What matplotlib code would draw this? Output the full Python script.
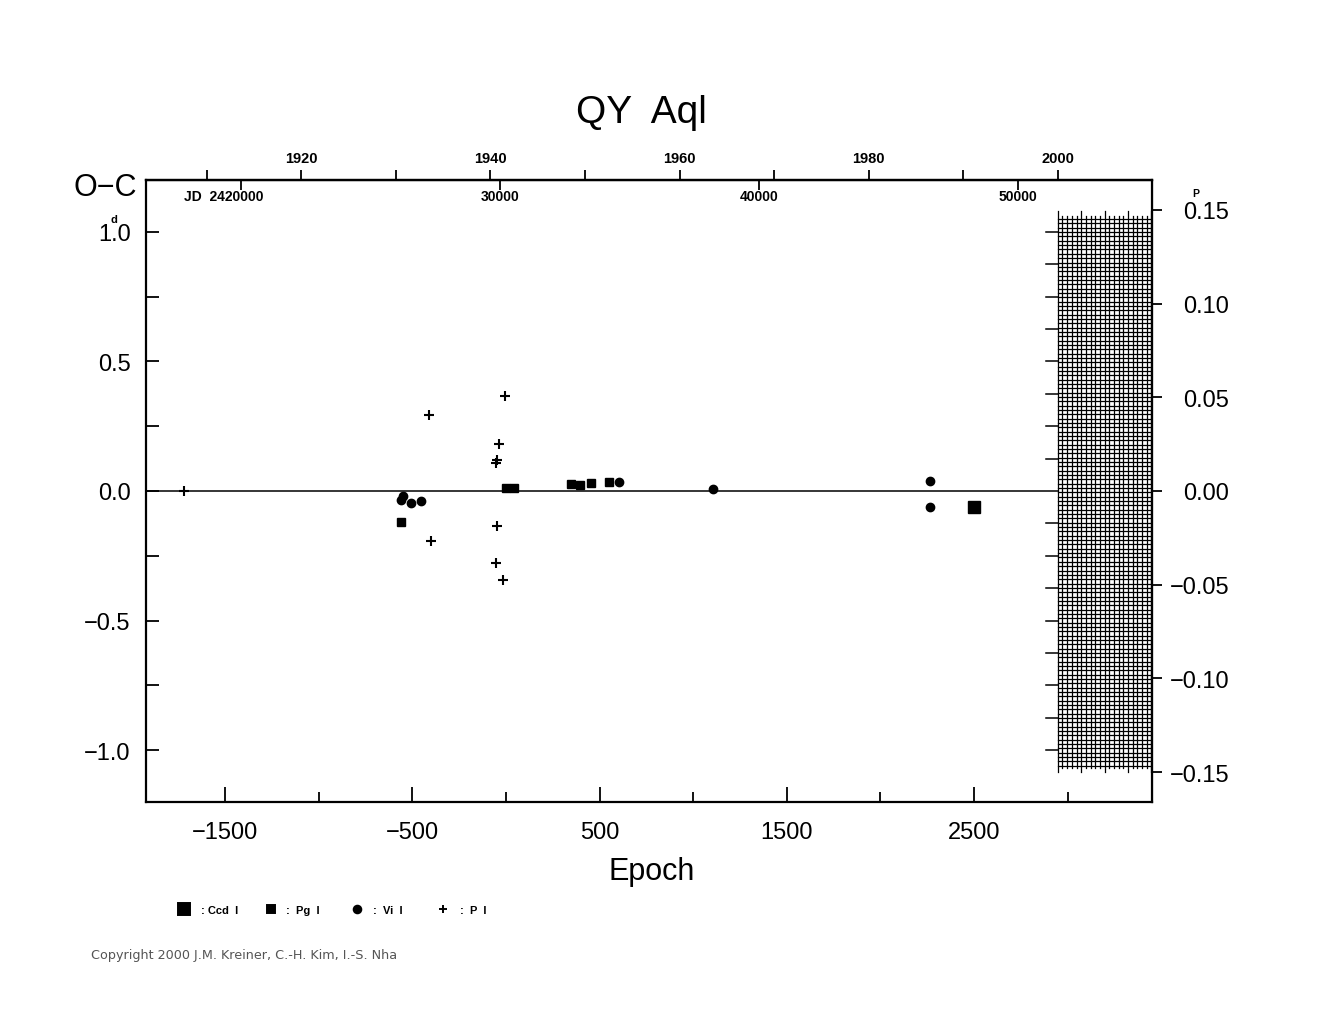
import numpy as np
import matplotlib
matplotlib.use("Agg")
import matplotlib.pyplot as plt
from matplotlib.lines import Line2D

plt.rcParams['font.family'] = ['Liberation Sans', 'DejaVu Sans']
plt.rcParams['axes.unicode_minus'] = True

# light elements
P = 7.2296
T0 = 2430230.0

# O-C data (epoch, O-C in days)
ccd_E = [2497]
ccd_oc = [-0.062]
pg_E = [-559, 0, 44, 350, 395, 452, 552]
pg_oc = [-0.121, 0.010, 0.013, 0.026, 0.022, 0.030, 0.035]
vis_E = [-551, -561, -509, -456, 605, 1106, 2267, 2267]
vis_oc = [-0.018, -0.035, -0.045, -0.039, 0.035, 0.008, 0.039, -0.062]
pe_E = [-1719, -411, -400, -5, -36, -48, -52, -50, -55, -16]
pe_oc = [0.0, 0.293, -0.193, 0.366, 0.182, 0.120, 0.107, -0.134, -0.278, -0.343]

year_major = [1920, 1940, 1960, 1980, 2000]
year_minor = [1910, 1930, 1950, 1970, 1990, 2010]
jd_ticks = [20000, 30000, 40000, 50000]
jd_labels = ['JD  2420000', '30000', '40000', '50000']


def ep2year(e):
    return 2000 + (T0 + P * np.asarray(e) - 2451545.0) / 365.25


def year2ep(y):
    return (2451545.0 + (np.asarray(y) - 2000) * 365.25 - T0) / P


def ep2jd(e):
    return T0 - 2400000 + P * np.asarray(e)


def jd2ep(j):
    return (np.asarray(j) + 2400000 - T0) / P


fig = plt.figure(figsize=(13.25, 10.2), dpi=100)
ax = fig.add_axes([146 / 1325, 1 - 803 / 1020, 1006 / 1325, 622 / 1020])
ax.set_xlim(-1922, 3450)
ax.set_ylim(-1.2, 1.2)
for s in ax.spines.values():
    s.set_linewidth(1.6)

# zero line up to the grid block
grid_start = 2947
ax.plot([-1922, grid_start], [0, 0], color='black', lw=1.1, zorder=1)

# hatched grid block at the right side
gx = grid_start + 25 * np.arange(21)
for k, x in enumerate(gx):
    if k % 5 == 0:
        ax.plot([x, x], [-1.085, 1.08], color='black', lw=0.9)
    else:
        ax.plot([x, x], [-1.07, 1.06], color='black', lw=0.9)
for y in np.linspace(-1.06, 1.049, 127):
    ax.plot([grid_start, 3450], [y, y], color='black', lw=0.9)
for k in range(-8, 9):
    if k != 0:
        ax.plot([grid_start - 64, grid_start], [k * 0.125, k * 0.125], color='black', lw=1.1)

# data
ax.plot(pe_E, pe_oc, linestyle='none', marker='+', ms=6.5, mew=1.5, color='black')
ax.plot(vis_E, vis_oc, linestyle='none', marker='o', ms=6, color='black')
ax.plot(pg_E, pg_oc, linestyle='none', marker='s', ms=5.5, color='black')
ax.plot(ccd_E, ccd_oc, linestyle='none', marker='s', ms=8, color='black')

# bottom / left axis
ax.set_xticks([-1500, -500, 500, 1500, 2500])
ax.set_xticklabels(['\u22121500', '\u2212500', '500', '1500', '2500'])
ax.set_xticks([-1000, 0, 1000, 2000, 3000], minor=True)
ax.set_yticks([-1.0, -0.5, 0.0, 0.5, 1.0])
ax.set_yticklabels(['\u22121.0', '\u22120.5', '0.0', '0.5', '1.0'])
ax.set_yticks([-0.75, -0.25, 0.25, 0.75], minor=True)
ax.tick_params(axis='x', which='major', direction='in', length=10.5, width=1.3,
               labelsize=17, pad=14, top=False)
ax.tick_params(axis='x', which='minor', direction='in', length=7.5, width=1.3, top=False)
ax.tick_params(axis='y', which='both', direction='in', length=9.5, width=1.3,
               labelsize=17, pad=11, right=False)

# top year axis
sec_top = ax.secondary_xaxis('top', functions=(ep2year, year2ep))
sec_top.set_xticks(year_major)
sec_top.set_xticklabels([str(y) for y in year_major], fontweight='bold')
sec_top.set_xticks(year_minor, minor=True)
sec_top.tick_params(axis='x', which='both', direction='out', length=7.5, width=1.3,
                    labelsize=10.5, pad=3)
sec_top.spines['top'].set_linewidth(1.6)

# JD ticks inside the top
sec_jd = ax.secondary_xaxis('top', functions=(ep2jd, jd2ep))
sec_jd.set_xticks(jd_ticks)
sec_jd.set_xticklabels([])
sec_jd.tick_params(axis='x', direction='in', length=7.5, width=1.3)
for j, lab in zip(jd_ticks, jd_labels):
    xe = float(jd2ep(j))
    if lab.startswith('JD'):
        ax.text(xe - 305, 1.14, lab, ha='left', va='center', fontsize=10, fontweight='bold')
    else:
        ax.text(xe, 1.14, lab, ha='center', va='center', fontsize=10, fontweight='bold')

# right axis in period units
sec_r = ax.secondary_yaxis('right', functions=(lambda d: d / P, lambda p: p * P))
pticks = [-0.15, -0.10, -0.05, 0.0, 0.05, 0.10, 0.15]
sec_r.set_yticks(pticks)
sec_r.set_yticklabels([('%.2f' % p).replace('-', '\u2212') for p in pticks])
sec_r.tick_params(axis='y', direction='out', length=7.5, width=1.3, labelsize=17, pad=48)
for lbl in sec_r.get_yticklabels():
    lbl.set_horizontalalignment('right')

# unit superscripts
ax.text(-1922 - 32 / 0.1873, 1.0 + 13 / 259.4, 'd', fontsize=8, fontweight='bold',
        ha='center', va='center', clip_on=False)
fig.text(1196 / 1325, 1 - 199 / 1020, 'P', fontsize=7.5, fontweight='bold', ha='center', va='bottom')

# titles
fig.text(641 / 1325, 1 - 113 / 1020, 'QY  Aql', fontsize=28, ha='center', va='center')
fig.text(105 / 1325, 1 - 188 / 1020, 'O\u2212C', fontsize=22, ha='center', va='center')
fig.text(652 / 1325, 1 - 872 / 1020, 'Epoch', fontsize=22, ha='center', va='center')

# legend row
leg_items = [('s', 8, ': Ccd  I', 184, 201), ('s', 5.5, ':  Pg  I', 271, 286),
             ('o', 5.5, ':  Vi  I', 357, 373), ('+', 6, ':  P  I', 443, 460)]
for mk, ms, lab, mx, tx in leg_items:
    fig.add_artist(Line2D([mx / 1325], [1 - 910 / 1020], transform=fig.transFigure,
                          marker=mk, ms=ms, mew=1.4, color='black', linestyle='none'))
    fig.text(tx / 1325, 1 - 911 / 1020, lab, fontsize=8, fontweight='bold', ha='left', va='center')

fig.text(91 / 1325, 1 - 956 / 1020, 'Copyright 2000 J.M. Kreiner, C.-H. Kim, I.-S. Nha',
         fontsize=9.2, color='#555555', ha='left', va='center', family='DejaVu Sans')

fig.savefig('out.png', dpi=100, facecolor='white')
